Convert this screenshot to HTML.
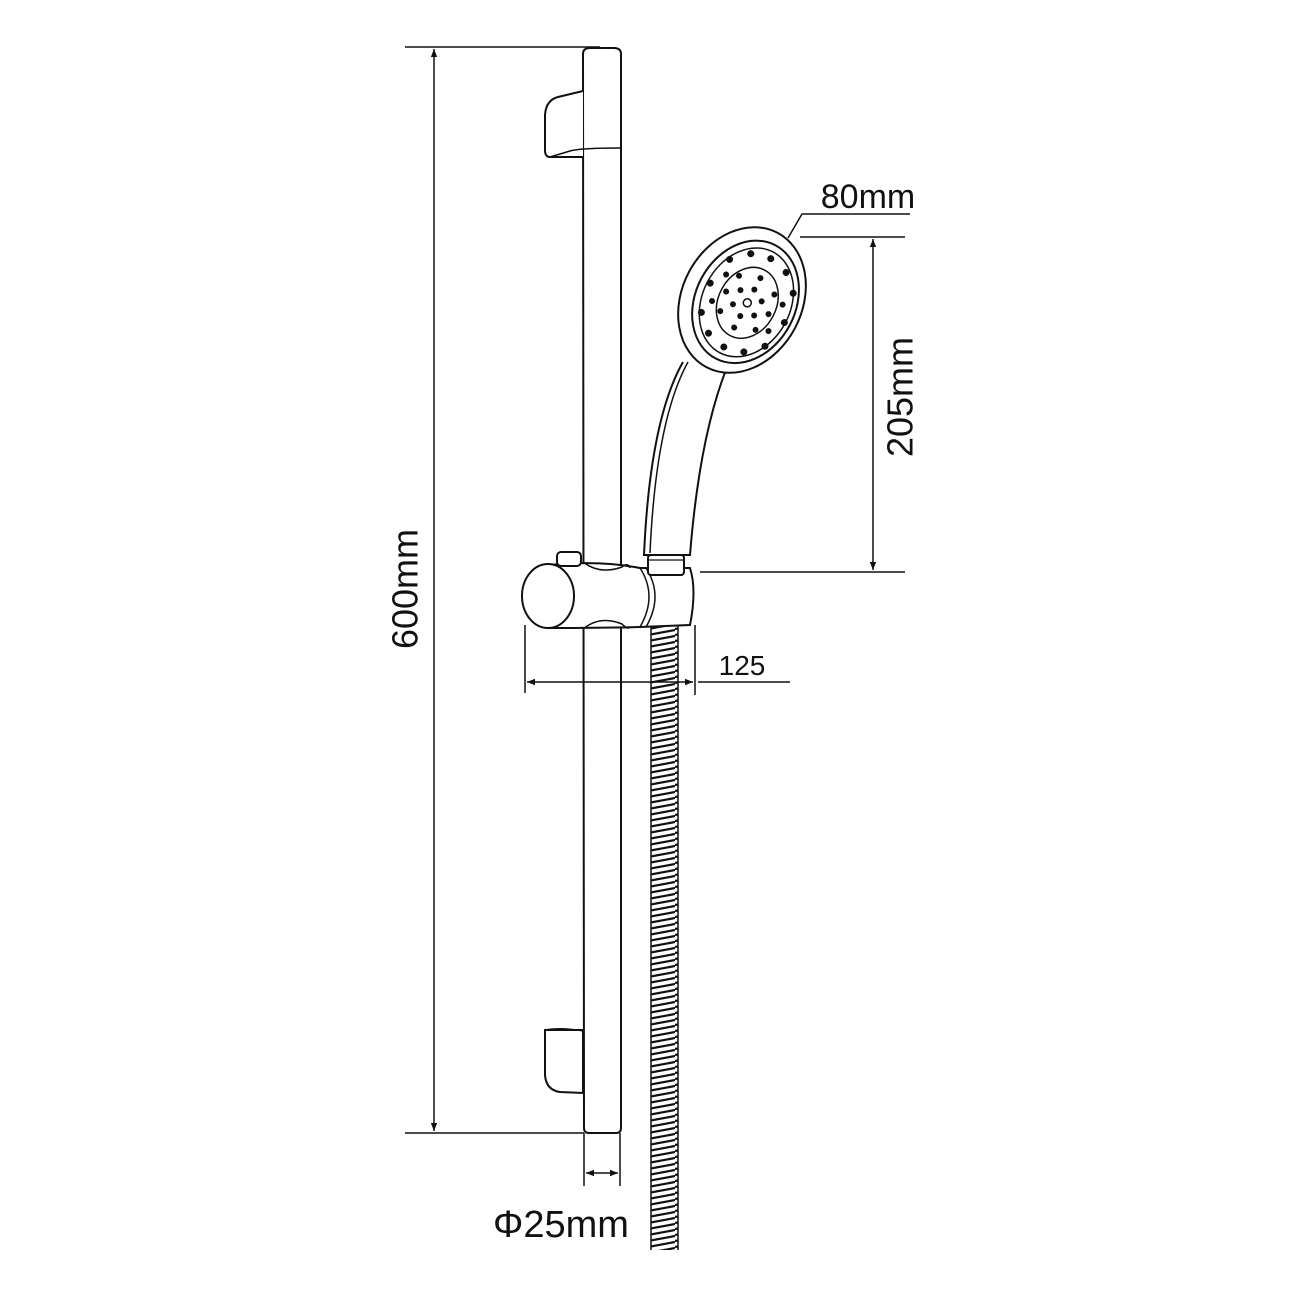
<!DOCTYPE html>
<html><head><meta charset="utf-8"><style>html,body{margin:0;padding:0;background:#fff}svg{display:block}</style></head>
<body>
<svg width="1300" height="1300" viewBox="0 0 1300 1300" xmlns="http://www.w3.org/2000/svg">
<defs>
<marker id="ar" viewBox="0 0 10 10" refX="10" refY="5" markerWidth="10" markerHeight="8" orient="auto-start-reverse" markerUnits="userSpaceOnUse"><path d="M0,1 L10,5 L0,9 Z" fill="#111"/></marker>
<pattern id="hose" width="27" height="6" patternUnits="userSpaceOnUse"><path d="M0,5 L27,0 M0,11 L27,6 M0,-1 L27,-6" stroke="#111" stroke-width="2.2"/></pattern>
</defs>
<g fill="none" stroke="#111" stroke-width="2" font-family="Liberation Sans, Arial, sans-serif">
<line x1="405" y1="47" x2="600" y2="47" stroke-width="1.5"/>
<line x1="405" y1="1133" x2="584" y2="1133" stroke-width="1.5"/>
<line x1="434" y1="49" x2="434" y2="1131" stroke-width="1.5" marker-start="url(#ar)" marker-end="url(#ar)"/>
<text x="405" y="589" transform="rotate(-90 405 589)" text-anchor="middle" dominant-baseline="central" font-size="36" fill="#111" stroke="none">600mm</text>
<path d="M583,54 Q583,48 590,48 L614,48 Q621,48 621,54 L621,1128 Q621,1133 616,1133 L589,1133 Q584,1133 584,1128 Z" fill="#fff"/>
<path d="M583,91 L558,97 Q546,100 545,115 L545,150 Q545,157 550,157 L583,157" fill="#fff"/>
<path d="M550,157 L570,151 Q580,148 621,148" stroke-width="1.5"/>
<path d="M545,1030 L583,1030 L583,1093 L560,1092 Q546,1090 545,1075 Z" fill="#fff"/>
<path d="M545,1030 Q560,1027 584,1031" stroke-width="1.5"/>
<rect x="651" y="625" width="27" height="625" fill="url(#hose)" stroke="none"/>
<line x1="651" y1="625" x2="651" y2="1250" stroke-width="1.5"/>
<line x1="678" y1="625" x2="678" y2="1250" stroke-width="1.5"/>
<path d="M548,565 Q600,560 640,568 L690,568 Q697,590 690,625 L640,627 Q600,628 548,628" fill="#fff"/>
<ellipse cx="548" cy="596" rx="26" ry="32" fill="#fff"/>
<rect x="557" y="552" width="24" height="14" rx="4" fill="#fff"/>
<path d="M583,562 Q600,575 622,567 Q628,562 630,568" stroke-width="1.5"/>
<path d="M583,629 Q600,615 622,624 Q628,630 630,627" stroke-width="1.5"/>
<path d="M640,568 Q658,596 640,627" stroke-width="1.5"/>
<path d="M646,568 Q664,596 646,627" stroke-width="1.5"/>
<rect x="648" y="555" width="36" height="20" rx="3" fill="#fff"/>
<line x1="649" y1="560" x2="683" y2="560" stroke-width="1.2"/>
<path d="M683,362 Q650,420 644,555 L690,555 Q700,430 730,360" fill="#fff"/>
<path d="M688,362 Q656,420 650,553" stroke-width="1.5"/>
<g transform="rotate(28 742 300)">
<ellipse cx="742" cy="300" rx="60" ry="76" fill="#fff"/>
<ellipse cx="746" cy="300" rx="50" ry="64" fill="#fff"/>
<ellipse cx="747" cy="300" rx="44" ry="57" stroke-width="1.5"/>
<ellipse cx="748" cy="300" rx="29" ry="37" stroke-width="1.5"/>
<g fill="#111" stroke="none">
<circle cx="748" cy="300" r="4" fill="#fff" stroke="#111" stroke-width="1.5"/>
<circle cx="748" cy="285" r="3"/><circle cx="748" cy="315" r="3"/><circle cx="736" cy="292" r="3"/><circle cx="760" cy="292" r="3"/><circle cx="736" cy="308" r="3"/><circle cx="760" cy="308" r="3"/>
<circle cx="748" cy="272" r="3"/><circle cx="748" cy="328" r="3"/><circle cx="728" cy="280" r="3"/><circle cx="768" cy="280" r="3"/><circle cx="728" cy="320" r="3"/><circle cx="768" cy="320" r="3"/><circle cx="724" cy="300" r="3"/><circle cx="772" cy="300" r="3"/>
<circle cx="748" cy="250" r="3.5"/><circle cx="748" cy="350" r="3.5"/><circle cx="712" cy="270" r="3.5"/><circle cx="784" cy="270" r="3.5"/><circle cx="712" cy="330" r="3.5"/><circle cx="784" cy="330" r="3.5"/><circle cx="706" cy="300" r="3.5"/><circle cx="790" cy="300" r="3.5"/>
<circle cx="728" cy="255" r="3.5"/><circle cx="768" cy="255" r="3.5"/><circle cx="728" cy="345" r="3.5"/><circle cx="768" cy="345" r="3.5"/>
<circle cx="716" cy="285" r="3"/><circle cx="780" cy="285" r="3"/><circle cx="716" cy="315" r="3"/><circle cx="780" cy="315" r="3"/>
</g>
</g>
<line x1="800" y1="237" x2="905" y2="237" stroke-width="1.5"/>
<line x1="700" y1="572" x2="905" y2="572" stroke-width="1.5"/>
<line x1="873" y1="239" x2="873" y2="570" stroke-width="1.5" marker-start="url(#ar)" marker-end="url(#ar)"/>
<text x="900" y="397" transform="rotate(-90 900 397)" text-anchor="middle" dominant-baseline="central" font-size="36" fill="#111" stroke="none">205mm</text>
<path d="M788,238 L802,214 L910,214" stroke-width="1.5"/>
<text x="868" y="208" text-anchor="middle" font-size="34" fill="#111" stroke="none">80mm</text>
<line x1="525" y1="625" x2="525" y2="693" stroke-width="1.5"/>
<line x1="695" y1="625" x2="695" y2="695" stroke-width="1.5"/>
<line x1="527" y1="682" x2="693" y2="682" stroke-width="1.5" marker-start="url(#ar)" marker-end="url(#ar)"/>
<line x1="698" y1="682" x2="790" y2="682" stroke-width="1.5"/>
<text x="742" y="675" text-anchor="middle" font-size="28" fill="#111" stroke="none">125</text>
<line x1="584" y1="1133" x2="584" y2="1186" stroke-width="1.5"/>
<line x1="620" y1="1133" x2="620" y2="1186" stroke-width="1.5"/>
<line x1="586" y1="1173" x2="618" y2="1173" stroke-width="1.5" marker-start="url(#ar)" marker-end="url(#ar)"/>
<text x="561" y="1237" text-anchor="middle" font-size="38" fill="#111" stroke="none">Φ25mm</text>
</g>
</svg>
</body></html>
